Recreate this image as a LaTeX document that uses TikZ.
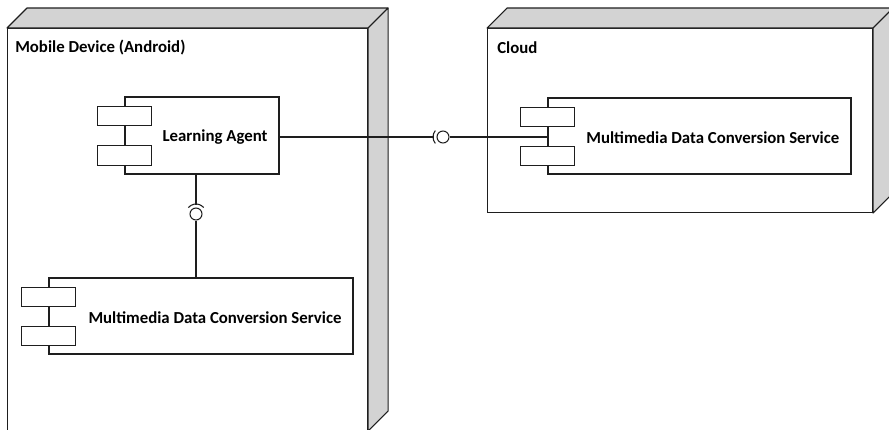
\documentclass[tikz,border=0pt]{standalone}
\usepackage{fontspec}
\setmainfont{Carlito}
\usetikzlibrary{calc}
\definecolor{facegray}{RGB}{211,211,211}
\definecolor{linegray}{RGB}{30,30,30}
\tikzset{
  every node/.style={font=\bfseries\fontsize{12.6pt}{14pt}\selectfont},
  devicebox/.style={draw=linegray, line width=0.8pt, fill=white, inner sep=0pt, anchor=north west},
  side/.style={draw=linegray, line width=0.8pt, fill=facegray, line join=round},
  compbox/.style={draw=linegray, line width=0.8pt, fill=white, inner sep=0pt},
  portbox/.style={draw=linegray, line width=0.8pt, fill=white, inner sep=0pt,
    minimum width=40.5pt, minimum height=14.5pt},
  wire/.style={draw=linegray, line width=0.8pt},
  ball/.style={circle, draw=linegray, line width=0.8pt, fill=white, inner sep=0pt, minimum size=9pt},
}
\begin{document}
\begin{tikzpicture}[x=0.75pt, y=-0.75pt]
  \useasboundingbox (0,0) rectangle (889,429);
  \clip (0,0) rectangle (889,429);

  % Mobile device node
  \node[devicebox, minimum width=270pt, minimum height=301.5pt] (mobile) at (7,28) {};
  \path[side] (mobile.north west) -- ++(20,-20) -- ($(mobile.north east)+(20,-20)$) -- (mobile.north east) -- cycle;
  \path[side] (mobile.north east) -- ++(20,-20) -- ($(mobile.south east)+(20,-20)$) -- (mobile.south east) -- cycle;
  \node[anchor=west, inner sep=0pt] (mobilelabel) at (15,48) {Mobile Device (Android)};

  % Cloud node
  \node[devicebox, minimum width=288.75pt, minimum height=138pt] (cloud) at (487,28) {};
  \path[side] (cloud.north west) -- ++(20,-20) -- ($(cloud.north east)+(20,-20)$) -- (cloud.north east) -- cycle;
  \path[side] (cloud.north east) -- ++(20,-20) -- ($(cloud.south east)+(20,-20)$) -- (cloud.south east) -- cycle;
  \node[anchor=west, inner sep=0pt] (cloudlabel) at (497,48) {Cloud};

  % Components
  \node[compbox, minimum width=115.5pt, minimum height=57.75pt,
        label={[xshift=9.75pt, yshift=-1.5pt]center:Learning Agent}] (agent) at (202,135.5) {};
  \node[portbox] (agentp1) at ($(agent.west)+(0,-19.5)$) {};
  \node[portbox] (agentp2) at ($(agent.west)+(0,20)$) {};

  \node[compbox, minimum width=227.25pt, minimum height=57pt,
        label={[xshift=10pt, yshift=-1.5pt]center:Multimedia Data Conversion Service}] (cloudsvc) at (699.5,136) {};
  \node[portbox] (cloudsvcp1) at ($(cloudsvc.west)+(0,-19)$) {};
  \node[portbox] (cloudsvcp2) at ($(cloudsvc.west)+(0,20)$) {};

  \node[compbox, minimum width=228pt, minimum height=57pt,
        label={[xshift=10.5pt, yshift=-1.5pt]center:Multimedia Data Conversion Service}] (localsvc) at (201,316) {};
  \node[portbox] (localsvcp1) at ($(localsvc.west)+(0,-19)$) {};
  \node[portbox] (localsvcp2) at ($(localsvc.west)+(0,20)$) {};

  % Horizontal assembly connector: agent requires, cloud service provides
  \node[ball] (hball) at (443,137) {};
  \coordinate (hsock) at (433.5,137);
  \draw[wire] ($(hball.center)+(140:7.5pt)$) arc[start angle=140, end angle=220, radius=7.5pt];
  \draw[wire] (agent.east |- hsock) -- (hsock);
  \draw[wire] (hball.east) -- (cloudsvc.west |- hball);

  % Vertical assembly connector: agent requires, local service provides
  \node[ball] (vball) at (196,214) {};
  \coordinate (vsock) at (196,204.5);
  \draw[wire] ($(vball.center)+(40:7.5pt)$) arc[start angle=40, end angle=140, radius=7.5pt];
  \draw[wire] (agent.south -| vsock) -- (vsock);
  \draw[wire] (vball.south) -- (localsvc.north -| vball);
\end{tikzpicture}
\end{document}
